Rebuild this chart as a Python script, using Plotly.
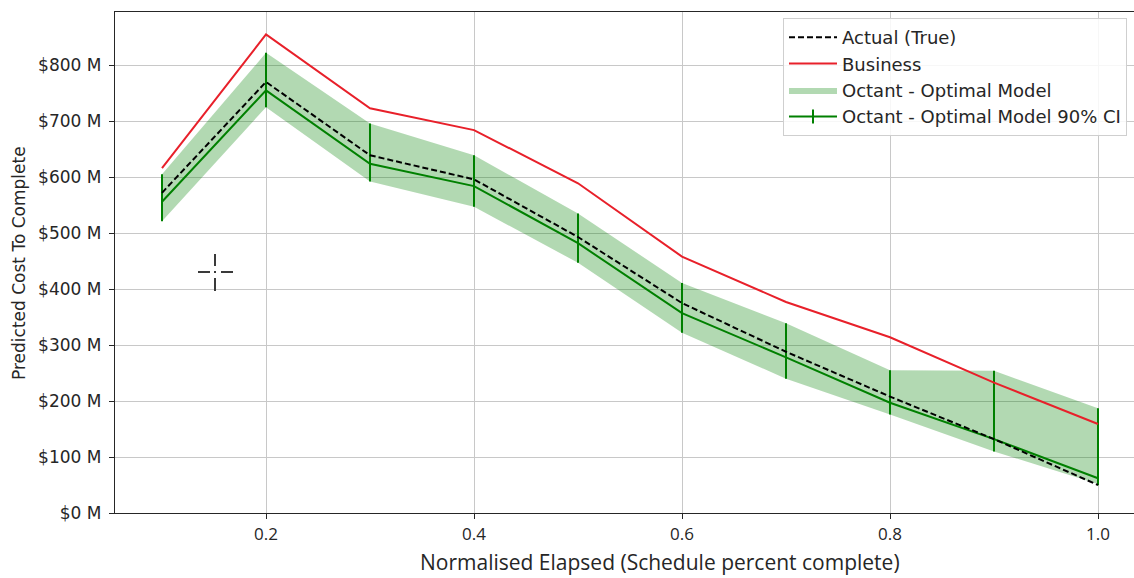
import plotly.graph_objects as go

# Normalised elapsed schedule (fraction complete)
elapsed = [0.1, 0.2, 0.3, 0.4, 0.5, 0.6, 0.7, 0.8, 0.9, 1.0]

# Cost to complete, $M
actual = [572, 770, 639, 596, 493, 375, 288, 208, 132, 50]
business = [616, 855, 723, 684, 589, 458, 377, 314, 233, 159]
octant = [556, 755, 624, 584, 482, 357, 278, 197, 132, 62]
octant_hi = [605, 822, 696, 639, 535, 411, 339, 255, 254, 187]
octant_lo = [521, 725, 592, 547, 447, 322, 240, 176, 110, 52]

y_ticks = [0, 100, 200, 300, 400, 500, 600, 700, 800]
y_tick_labels = ["$0 M", "$100 M", "$200 M", "$300 M", "$400 M",
                 "$500 M", "$600 M", "$700 M", "$800 M"]
x_ticks = [0.2, 0.4, 0.6, 0.8, 1.0]
x_tick_labels = ["0.2", "0.4", "0.6", "0.8", "1.0"]

GREEN = "#008000"
RED = "#e8202a"
TEXT = "#262626"

fig = go.Figure()

# 90% CI band
fig.add_trace(go.Scatter(
    x=elapsed + elapsed[::-1],
    y=octant_hi + octant_lo[::-1],
    fill="toself",
    fillcolor="rgba(0,128,0,0.3)",
    line=dict(width=0, color="rgba(0,0,0,0)"),
    mode="lines",
    name="Octant - Optimal Model",
    legendrank=3,
    hoverinfo="skip",
))

# Model prediction with CI error bars
fig.add_trace(go.Scatter(
    x=elapsed, y=octant,
    mode="lines+markers",
    line=dict(color=GREEN, width=2),
    marker=dict(symbol="line-ns-open", size=10, line=dict(color=GREEN, width=2)),
    error_y=dict(
        type="data", symmetric=False,
        array=[h - v for h, v in zip(octant_hi, octant)],
        arrayminus=[v - l for v, l in zip(octant, octant_lo)],
        color=GREEN, thickness=2, width=0,
    ),
    name="Octant - Optimal Model 90% CI",
    legendrank=4,
))

fig.add_trace(go.Scatter(
    x=elapsed, y=business, mode="lines",
    line=dict(color=RED, width=2),
    name="Business", legendrank=2,
))

fig.add_trace(go.Scatter(
    x=elapsed, y=actual, mode="lines",
    line=dict(color="black", width=2, dash="6px,3px"),
    name="Actual (True)", legendrank=1,
))

W, H = 1134, 578
L, R, T, B = 115, 0, 12, 65
pw, ph = W - L - R, H - T - B


def px(xp):
    return (xp - L) / pw


def py(yp):
    return (H - B - yp) / ph


# crosshair pointer
cx, cy = 215, 272
cursor = [
    (cx, cy - 18, cx, cy - 6),
    (cx, cy + 6, cx, cy + 19),
    (cx - 17, cy, cx - 5, cy),
    (cx + 6, cy, cx + 18, cy),
    (cx, cy - 1, cx, cy + 1),
]
shapes = [dict(type="line", xref="paper", yref="paper",
               x0=px(a), y0=py(b), x1=px(c), y1=py(d),
               line=dict(color="#3a3a3a", width=2), layer="above")
          for a, b, c, d in cursor]

annotations = [
    dict(text="Normalised Elapsed (Schedule percent complete)",
         xref="paper", yref="paper", x=px(660), y=py(562),
         xanchor="center", yanchor="middle", showarrow=False,
         font=dict(family="Open Sans", size=21, color=TEXT)),
    dict(text="Predicted Cost To Complete",
         xref="paper", yref="paper", x=px(19), y=py(263),
         xanchor="center", yanchor="middle", showarrow=False, textangle=-90,
         font=dict(family="DejaVu Sans", size=17, color=TEXT)),
]

fig.update_layout(
    width=W, height=H,
    margin=dict(l=L, r=R, t=T, b=B),
    paper_bgcolor="white", plot_bgcolor="white",
    font=dict(family="DejaVu Sans", size=16, color=TEXT),
    shapes=shapes,
    annotations=annotations,
    showlegend=True,
    legend=dict(
        x=px(783), y=py(18), xanchor="left", yanchor="top",
        bgcolor="rgba(255,255,255,0.85)",
        bordercolor="#cfcfcf", borderwidth=1,
        font=dict(family="DejaVu Sans", size=18, color=TEXT),
        itemwidth=48,
    ),
    xaxis=dict(
        range=[0.1 - (162 - 115) / 1040, 1.0 + (1134 - 1098) / 1040],
        tickvals=x_ticks, ticktext=x_tick_labels,
        tickfont=dict(family="Open Sans", size=17, color=TEXT),
        ticks="outside", ticklen=5, tickcolor=TEXT,
        showgrid=True, gridcolor="#c8c8c8", gridwidth=1,
        showline=True, linecolor=TEXT, linewidth=1.3, mirror=True,
        zeroline=False,
    ),
    yaxis=dict(
        range=[0, 895],
        tickvals=y_ticks, ticktext=y_tick_labels,
        tickfont=dict(family="DejaVu Sans", size=17, color=TEXT),
        ticks="outside", ticklen=5, tickcolor=TEXT,
        ticklabelstandoff=4,
        showgrid=True, gridcolor="#c8c8c8", gridwidth=1,
        showline=True, linecolor=TEXT, linewidth=1.3, mirror=False,
        zeroline=False,
    ),
)

fig.write_html("out.html")
